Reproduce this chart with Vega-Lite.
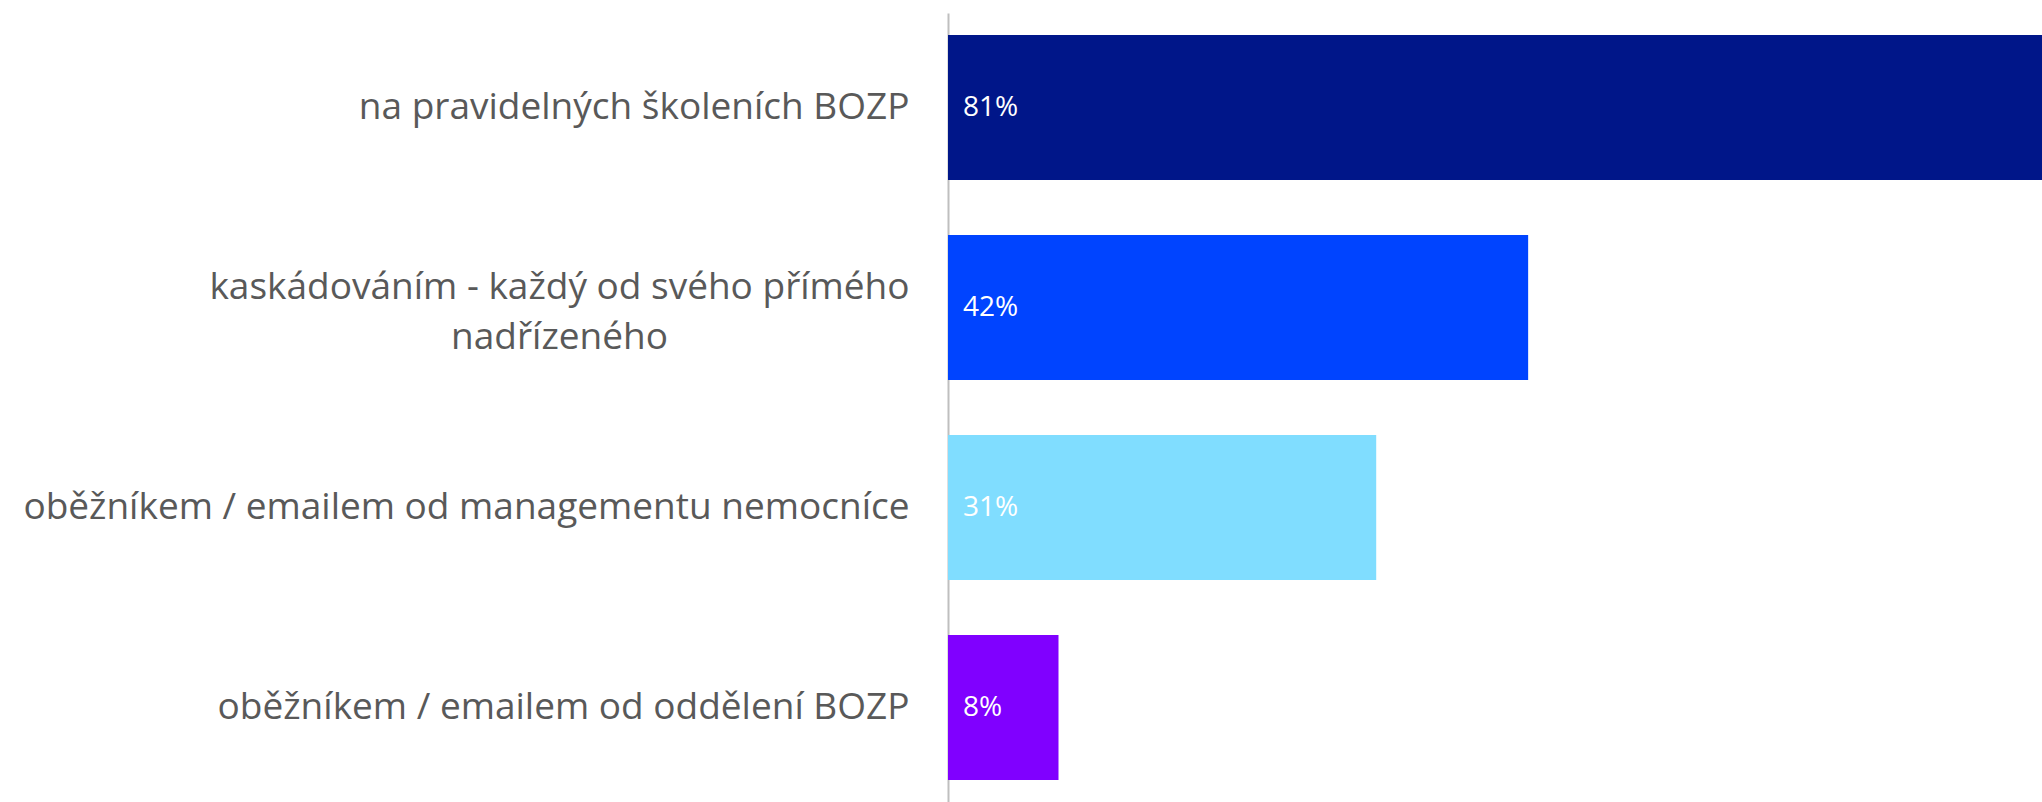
{
  "$schema": "https://vega.github.io/schema/vega-lite/v6.json",
  "autosize": "none",
  "width": 1094,
  "height": 789,
  "padding": {"left": 948, "top": 13, "right": 0, "bottom": 0},
  "background": "white",
  "config": {"view": {"stroke": null}},
  "data": {
    "values": [
      {"label": "na pravidelných školeních BOZP", "value": 0.81},
      {"label": "kaskádováním - každý od svého přímého|nadřízeného", "value": 0.42},
      {"label": "oběžníkem / emailem od managementu nemocníce", "value": 0.31},
      {"label": "oběžníkem / emailem od oddělení BOZP", "value": 0.08}
    ]
  },
  "encoding": {
    "y": {
      "field": "label",
      "type": "nominal",
      "sort": null,
      "scale": {"paddingInner": 0.275, "paddingOuter": 0.11},
      "axis": {
        "title": null,
        "ticks": false,
        "domain": true,
        "domainColor": "#BFBFBF",
        "domainWidth": 2,
        "labelFont": "Open Sans",
        "labelFontSize": 37,
        "labelColor": "#595959",
        "labelLimit": 0,
        "labelLineHeight": 50,
        "labelExpr": "split(datum.label, '|')",
        "labelAlign": {"condition": {"test": "indexof(datum.value, 'kask') >= 0", "value": "center"}, "value": "right"},
        "labelPadding": {"condition": {"test": "indexof(datum.value, 'kask') >= 0", "value": 389}, "value": 39},
        "labelOffset": {"condition": {"test": "indexof(datum.value, 'kask') >= 0", "value": -20}, "value": 0}
      }
    }
  },
  "layer": [
    {
      "mark": {"type": "bar", "clip": true},
      "encoding": {
        "x": {"field": "value", "type": "quantitative", "scale": {"domain": [0, 0.792], "nice": false, "zero": true}, "axis": null},
        "color": {
          "field": "label",
          "type": "nominal",
          "scale": {
            "domain": ["na pravidelných školeních BOZP", "kaskádováním - každý od svého přímého|nadřízeného", "oběžníkem / emailem od managementu nemocníce", "oběžníkem / emailem od oddělení BOZP"],
            "range": ["#001689", "#0044FF", "#80DDFF", "#8000FF"]
          },
          "legend": null
        }
      }
    },
    {
      "mark": {"type": "text", "align": "left", "baseline": "middle", "dx": 15, "font": "Open Sans", "fontSize": 28, "color": "white"},
      "encoding": {
        "x": {"datum": 0, "type": "quantitative"},
        "text": {"field": "value", "type": "quantitative", "format": ".0%"}
      }
    }
  ]
}
